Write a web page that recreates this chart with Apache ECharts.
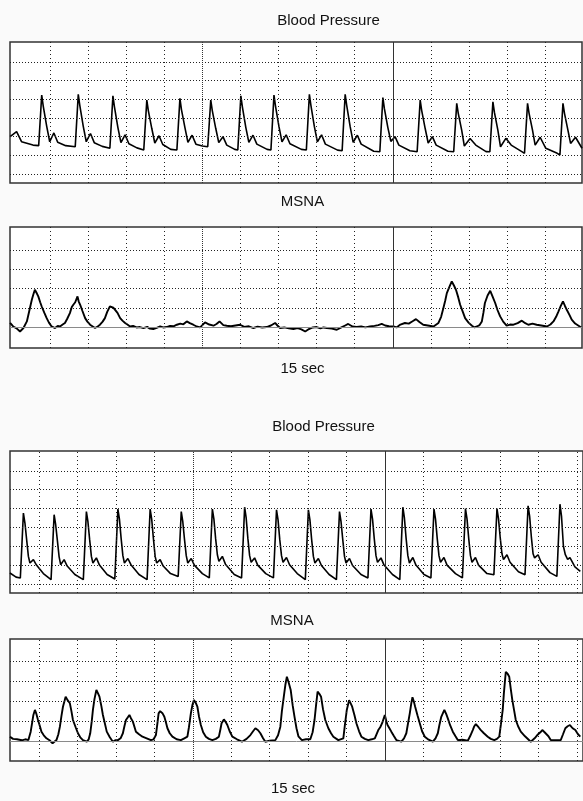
<!DOCTYPE html>
<html><head><meta charset="utf-8">
<script src="https://cdn.jsdelivr.net/npm/echarts@6/dist/echarts.min.js"></script>
<style>html,body{margin:0;padding:0;background:#fafafa}#c{width:583px;height:801px}</style>
</head><body><div id="c"></div>
<script>
// ---- tick / grid positions (seconds on x, grid divisions on y) ----
const xTicks = [1,2,3,4,5,6,7,8,9,10,11,12,13,14,15];
const bpYTicks = [0,1,2,3,4,5,6];
const msnaYTicks = [1,2,3,4];
const titlesTop = ['Blood Pressure','MSNA','15 sec'];
const titlesBottom = ['Blood Pressure','MSNA','15 sec'];

// ---- top recording: blood pressure ----
const bp1 = [
[-0.05,2.0],[0.12,2.27],[0.25,1.73],[0.55,1.55],
[0.70,1.52],[0.78,4.23],[0.82,3.64],[0.91,2.57],[0.99,1.73],[1.10,2.2],[1.20,1.70],[1.41,1.52],
[1.66,1.46],[1.74,4.27],[1.78,3.68],[1.87,2.57],[1.95,1.73],[2.06,2.17],[2.16,1.68],[2.37,1.48],
[2.57,1.38],[2.65,4.19],[2.69,3.6],[2.78,2.5],[2.86,1.68],[2.97,2.1],[3.07,1.62],[3.28,1.40],
[3.46,1.29],[3.54,3.96],[3.58,3.4],[3.67,2.45],[3.75,1.66],[3.86,2.05],[3.96,1.58],[4.17,1.32],
[4.33,1.29],[4.41,4.05],[4.45,3.45],[4.54,2.5],[4.62,1.7],[4.73,2.08],[4.83,1.6],[5.0,1.5],
[5.14,1.46],[5.22,3.96],[5.26,3.4],[5.35,2.45],[5.43,1.68],[5.54,2.0],[5.64,1.55],[5.85,1.32],
[5.93,1.29],[6.01,4.19],[6.05,3.6],[6.14,2.5],[6.22,1.7],[6.33,2.08],[6.43,1.6],[6.70,1.32],
[6.80,1.29],[6.88,4.23],[6.92,3.64],[7.01,2.55],[7.09,1.72],[7.20,2.1],[7.30,1.62],[7.60,1.32],
[7.73,1.29],[7.81,4.27],[7.85,3.68],[7.94,2.55],[8.02,1.72],[8.13,2.1],[8.23,1.6],[8.55,1.28],
[8.67,1.25],[8.75,4.27],[8.79,3.68],[8.88,2.55],[8.96,1.7],[9.07,2.08],[9.17,1.6],[9.50,1.22],
[9.66,1.19],[9.74,4.09],[9.78,3.5],[9.87,2.5],[9.95,1.75],[10.06,2.0],[10.16,1.55],[10.45,1.25],
[10.64,1.19],[10.72,3.96],[10.76,3.4],[10.85,2.45],[10.93,1.66],[11.04,2.0],[11.14,1.55],[11.45,1.22],
[11.60,1.19],[11.68,3.79],[11.72,3.25],[11.81,2.35],[11.88,1.5],[12.03,1.9],[12.18,1.55],[12.45,1.2],
[12.55,1.19],[12.63,3.87],[12.67,3.3],[12.76,2.35],[12.83,1.46],[12.97,1.91],[13.11,1.55],[13.40,1.19],
[13.46,1.11],[13.54,3.79],[13.58,3.25],[13.67,2.35],[13.74,1.55],[13.87,1.97],[14.02,1.38],[14.32,1.11],
[14.39,1.02],[14.47,3.79],[14.51,3.25],[14.60,2.35],[14.67,1.64],[14.80,1.97],[14.97,1.38]
];

// ---- top recording: MSNA ----
const msna1 = [
[-0.05,0.23],[0.03,0.05],[0.12,-0.05],[0.21,-0.21],[0.30,-0.03],[0.39,0.31],[0.45,0.82],[0.52,1.43],[0.56,1.70],[0.60,1.94],[0.64,1.80],[0.69,1.6],[0.74,1.30],[0.78,1.08],[0.85,0.75],[0.91,0.48],[0.97,0.25],[1.04,0.05],[1.09,-0.02],[1.13,-0.03],[1.20,0.08],[1.26,0.05],[1.33,0.15],[1.39,0.23],[1.45,0.45],[1.52,0.74],[1.57,1.05],[1.61,1.17],[1.66,1.30],[1.72,1.6],[1.75,1.35],[1.79,1.17],[1.85,0.85],[1.92,0.48],[1.98,0.30],[2.05,0.14],[2.12,0.05],[2.18,-0.03],[2.25,0.05],[2.31,0.14],[2.38,0.30],[2.44,0.48],[2.50,0.80],[2.57,1.08],[2.62,1.12],[2.66,1.02],[2.71,1.0],[2.77,0.75],[2.84,0.48],[2.90,0.35],[2.97,0.23],[3.03,0.15],[3.10,0.05],[3.18,0.08],[3.27,0.00],[3.36,0.02],[3.45,-0.04],[3.55,0.03],[3.62,-0.06],[3.71,-0.08],[3.80,-0.02],[3.89,0.05],[3.97,0.0],[4.06,0.02],[4.15,0.08],[4.24,0.06],[4.33,0.14],[4.42,0.20],[4.50,0.16],[4.59,0.31],[4.67,0.22],[4.76,0.14],[4.85,0.05],[4.94,0.0],[5.0,0.12],[5.07,0.26],[5.18,0.15],[5.29,0.09],[5.37,0.18],[5.45,0.31],[5.55,0.12],[5.64,0.09],[5.75,0.06],[5.87,0.1],[5.99,0.14],[6.10,0.03],[6.22,0.06],[6.34,-0.03],[6.45,0.04],[6.57,0.0],[6.69,0.02],[6.80,0.1],[6.91,0.23],[6.97,0.1],[7.04,-0.03],[7.15,0.0],[7.27,-0.05],[7.39,-0.08],[7.50,-0.03],[7.60,-0.1],[7.70,-0.21],[7.80,-0.08],[7.90,0.0],[8.00,0.02],[8.10,-0.05],[8.18,0.0],[8.27,-0.03],[8.40,-0.06],[8.53,-0.12],[8.65,0.0],[8.75,0.1],[8.83,0.18],[8.94,0.05],[9.05,0.02],[9.17,0.05],[9.28,0.0],[9.40,0.05],[9.52,0.08],[9.62,0.12],[9.71,0.18],[9.80,0.1],[9.90,0.06],[10.02,0.05],[10.10,0.0],[10.20,0.15],[10.32,0.23],[10.42,0.2],[10.52,0.32],[10.61,0.43],[10.70,0.28],[10.80,0.14],[10.92,0.1],[11.07,0.05],[11.20,0.23],[11.27,0.55],[11.33,1.0],[11.38,1.4],[11.42,1.77],[11.49,2.10],[11.55,2.37],[11.61,2.15],[11.66,1.94],[11.72,1.55],[11.77,1.17],[11.84,0.80],[11.90,0.48],[11.99,0.25],[12.08,0.09],[12.15,0.0],[12.21,0.05],[12.28,0.12],[12.34,0.31],[12.38,0.75],[12.42,1.26],[12.49,1.65],[12.56,1.89],[12.62,1.60],[12.69,1.26],[12.75,0.90],[12.82,0.57],[12.90,0.30],[12.99,0.09],[13.08,0.15],[13.17,0.14],[13.28,0.22],[13.39,0.35],[13.48,0.22],[13.56,0.14],[13.67,0.20],[13.78,0.14],[13.90,0.1],[14.05,0.05],[14.14,0.15],[14.22,0.31],[14.29,0.55],[14.35,0.82],[14.41,1.10],[14.47,1.34],[14.52,1.12],[14.57,0.91],[14.64,0.65],[14.70,0.40],[14.79,0.2],[14.88,0.09],[14.95,0.0]
];

// ---- bottom recording: blood pressure ----
const bp2 = [
[0.24,0.58],[0.40,0.36],
[0.51,0.32],[0.59,3.76],[0.63,3.23],[0.675,2.34],[0.72,1.46],[0.76,1.11],[0.85,1.29],[0.93,1.0],[1.11,0.55],
[1.31,0.23],[1.39,3.67],[1.43,3.14],[1.475,2.3],[1.52,1.44],[1.56,1.02],[1.65,1.29],[1.73,0.95],[1.93,0.5],
[2.15,0.23],[2.23,3.84],[2.27,3.3],[2.315,2.35],[2.36,1.46],[2.40,1.11],[2.49,1.38],[2.57,1.0],[2.77,0.5],
[2.97,0.26],[3.05,3.97],[3.09,3.44],[3.135,2.4],[3.18,1.5],[3.22,1.11],[3.31,1.35],[3.39,1.02],[3.60,0.5],
[3.81,0.23],[3.89,3.97],[3.93,3.44],[3.975,2.4],[4.02,1.46],[4.06,1.11],[4.15,1.29],[4.23,0.95],[4.42,0.55],
[4.62,0.40],[4.70,3.84],[4.74,3.3],[4.785,2.35],[4.83,1.5],[4.87,1.11],[4.96,1.35],[5.04,1.0],[5.25,0.55],
[5.43,0.32],[5.51,3.97],[5.55,3.44],[5.595,2.4],[5.64,1.55],[5.68,1.2],[5.77,1.46],[5.85,1.05],[6.08,0.5],
[6.27,0.32],[6.35,4.07],[6.39,3.5],[6.435,2.4],[6.48,1.5],[6.52,1.15],[6.61,1.38],[6.69,1.0],[6.90,0.55],
[7.10,0.32],[7.18,3.93],[7.22,3.4],[7.265,2.35],[7.31,1.5],[7.35,1.15],[7.44,1.4],[7.52,1.02],[7.72,0.55],
[7.93,0.23],[8.01,3.93],[8.05,3.4],[8.095,2.35],[8.14,1.46],[8.18,1.11],[8.27,1.35],[8.35,0.98],[8.55,0.5],
[8.74,0.23],[8.82,3.84],[8.86,3.3],[8.905,2.35],[8.95,1.46],[8.99,1.11],[9.08,1.35],[9.16,0.98],[9.38,0.5],
[9.56,0.32],[9.64,3.97],[9.68,3.44],[9.725,2.4],[9.77,1.5],[9.81,1.15],[9.90,1.38],[9.98,1.0],[10.20,0.5],
[10.39,0.23],[10.47,4.07],[10.51,3.5],[10.555,2.4],[10.60,1.5],[10.64,1.11],[10.73,1.4],[10.81,1.0],[11.02,0.5],
[11.20,0.32],[11.28,3.97],[11.32,3.44],[11.365,2.4],[11.41,1.5],[11.45,1.15],[11.54,1.4],[11.62,1.0],[11.84,0.55],
[12.02,0.32],[12.10,4.0],[12.14,3.45],[12.185,2.4],[12.23,1.5],[12.27,1.15],[12.36,1.4],[12.44,1.0],[12.66,0.55],
[12.84,0.49],[12.92,4.0],[12.96,3.45],[13.005,2.45],[13.05,1.6],[13.09,1.3],[13.18,1.55],[13.26,1.15],[13.48,0.65],
[13.65,0.49],[13.73,4.14],[13.77,3.6],[13.815,2.5],[13.86,1.6],[13.90,1.38],[13.99,1.55],[14.07,1.15],[14.30,0.6],
[14.48,0.40],[14.56,4.23],[14.60,3.6],[14.65,2.0],[14.70,1.55],[14.76,1.3],[14.82,1.4],[14.95,0.9],[15.09,0.67]
];

// ---- bottom recording: MSNA ----
const msna2 = [
[0.24,0.23],[0.32,0.12],[0.42,0.1],[0.55,0.05],[0.64,0.1],[0.72,0.06],[0.78,0.48],[0.82,0.95],[0.85,1.31],[0.89,1.56],[0.93,1.35],[0.97,1.06],[1.02,0.75],[1.06,0.48],[1.12,0.3],[1.19,0.15],[1.27,0.05],[1.35,-0.1],[1.40,-0.05],[1.45,0.06],[1.50,0.35],[1.54,0.73],[1.58,1.25],[1.62,1.72],[1.66,2.0],[1.69,2.22],[1.74,2.05],[1.80,1.89],[1.84,1.5],[1.88,1.06],[1.95,0.7],[2.01,0.4],[2.07,0.2],[2.14,0.06],[2.24,-0.02],[2.29,0.1],[2.33,0.4],[2.37,1.0],[2.40,1.56],[2.44,2.1],[2.49,2.55],[2.53,2.4],[2.57,2.22],[2.62,1.75],[2.66,1.31],[2.71,0.9],[2.76,0.48],[2.84,0.2],[2.92,-0.02],[2.98,0.05],[3.05,0.06],[3.12,0.15],[3.18,0.4],[3.22,0.75],[3.26,1.06],[3.31,1.2],[3.35,1.31],[3.39,1.15],[3.44,0.98],[3.52,0.48],[3.6,0.35],[3.69,0.23],[3.80,0.15],[3.91,0.06],[3.98,0.1],[4.04,0.31],[4.08,0.9],[4.11,1.39],[4.15,1.5],[4.17,1.56],[4.21,1.4],[4.26,1.22],[4.30,0.95],[4.34,0.65],[4.40,0.4],[4.47,0.23],[4.58,0.1],[4.69,0.06],[4.78,0.15],[4.86,0.23],[4.90,0.7],[4.95,1.39],[4.99,1.8],[5.03,2.05],[5.08,1.9],[5.12,1.72],[5.16,1.25],[5.21,0.81],[5.27,0.45],[5.34,0.23],[5.42,0.12],[5.51,0.06],[5.60,0.12],[5.68,0.23],[5.72,0.6],[5.75,0.9],[5.81,1.09],[5.86,0.95],[5.90,0.81],[5.96,0.5],[6.03,0.23],[6.15,0.1],[6.28,-0.02],[6.40,0.12],[6.50,0.31],[6.57,0.5],[6.63,0.65],[6.70,0.55],[6.76,0.4],[6.83,0.15],[6.89,-0.02],[7.0,0.03],[7.15,0.06],[7.22,0.3],[7.28,0.73],[7.32,1.5],[7.37,2.22],[7.41,2.8],[7.45,3.21],[7.50,2.9],[7.55,2.55],[7.60,1.8],[7.65,1.2],[7.70,0.65],[7.75,0.25],[7.84,0.06],[7.95,0.1],[8.06,0.1],[8.12,0.45],[8.17,1.06],[8.21,1.8],[8.25,2.47],[8.30,2.35],[8.34,2.22],[8.39,1.6],[8.45,1.06],[8.53,0.65],[8.60,0.4],[8.66,0.23],[8.79,0.06],[8.92,0.15],[8.96,0.8],[9.01,1.56],[9.07,2.05],[9.12,1.85],[9.15,1.72],[9.21,1.3],[9.26,0.9],[9.33,0.5],[9.39,0.23],[9.48,0.12],[9.57,0.06],[9.66,0.1],[9.74,0.15],[9.83,0.56],[9.88,0.7],[9.93,0.9],[10.0,1.31],[10.04,1.0],[10.07,0.81],[10.12,0.65],[10.17,0.48],[10.24,0.25],[10.30,0.06],[10.43,-0.02],[10.50,0.15],[10.56,0.4],[10.60,0.85],[10.65,1.39],[10.69,1.9],[10.72,2.19],[10.76,1.95],[10.79,1.72],[10.85,1.3],[10.91,0.9],[10.97,0.5],[11.04,0.23],[11.14,0.08],[11.25,-0.02],[11.32,0.15],[11.38,0.4],[11.42,0.8],[11.47,1.22],[11.55,1.56],[11.60,1.35],[11.64,1.14],[11.70,0.8],[11.77,0.48],[11.84,0.25],[11.90,0.06],[12.02,0.08],[12.16,0.03],[12.22,0.25],[12.29,0.56],[12.33,0.75],[12.37,0.86],[12.44,0.7],[12.50,0.56],[12.58,0.4],[12.68,0.23],[12.76,0.12],[12.85,0.06],[12.92,0.12],[12.98,0.23],[13.02,0.8],[13.07,1.56],[13.10,2.4],[13.15,3.46],[13.20,3.35],[13.24,3.21],[13.28,2.6],[13.32,2.05],[13.37,1.5],[13.41,1.06],[13.47,0.75],[13.54,0.48],[13.65,0.25],[13.80,-0.02],[13.90,0.15],[13.97,0.31],[14.05,0.45],[14.10,0.56],[14.16,0.45],[14.21,0.5],[14.26,0.25],[14.32,0.06],[14.45,0.05],[14.58,0.06],[14.64,0.35],[14.70,0.65],[14.76,0.75],[14.82,0.81],[14.89,0.65],[14.96,0.56],[15.03,0.35],[15.09,0.23]
];

// ---- layout ----
const panels = [
  {data: bp1,   top: 42,  height: 141, left: 10, width: 572, xMin: -0.053, xMax: 14.97, yMin: -0.48, yMax: 7.07, yTicks: bpYTicks, base: false, lw: 1.6},
  {data: msna1, top: 227, height: 121, left: 10, width: 572, xMin: -0.053, xMax: 14.97, yMin: -1.06, yMax: 5.18, yTicks: msnaYTicks, base: true, lw: 1.9},
  {data: bp2,   top: 451, height: 142, left: 10, width: 576, xMin: 0.241, xMax: 15.16, yMin: -0.48, yMax: 7.05, yTicks: bpYTicks, base: false, lw: 1.6},
  {data: msna2, top: 639, height: 122, left: 10, width: 576, xMin: 0.241, xMax: 15.16, yMin: -0.98, yMax: 5.09, yTicks: msnaYTicks, base: true, lw: 1.9}
];

const dotV = {type: [1, 3], color: '#222', width: 1};
const dotV5 = {type: [1, 1], color: '#333', width: 1};
const solidV = {type: 'solid', color: '#333', width: 1};
const dotH = {type: [1, 2], color: '#222', width: 1};
const baseL = {type: 'solid', color: '#8a8a8a', width: 1};

function gridLines(p) {
  const d = [];
  xTicks.forEach(k => {
    if (k > p.xMin && k < p.xMax) d.push({xAxis: k, lineStyle: k === 10 ? solidV : (k === 5 ? dotV5 : dotV)});
  });
  p.yTicks.forEach(k => d.push({yAxis: k, lineStyle: dotH}));
  if (p.base) d.push({yAxis: 0, lineStyle: baseL});
  return {silent: true, symbol: ['none', 'none'], label: {show: false}, emphasis: {disabled: true}, animation: false, data: d};
}

const font = '"Liberation Sans", Arial, sans-serif';
function ttl(text, cx, top) {
  return {text: text, left: cx, top: top, textAlign: 'center', padding: 0,
    textStyle: {fontSize: 15, fontWeight: 'normal', color: '#111', fontFamily: font}};
}

const option = {
  backgroundColor: '#fafafa',
  animation: false,
  title: [
    ttl(titlesTop[0], 328.5, 13), ttl(titlesTop[1], 302.5, 194), ttl(titlesTop[2], 302.5, 361),
    ttl(titlesBottom[0], 323.5, 419), ttl(titlesBottom[1], 292, 613), ttl(titlesBottom[2], 293, 781)
  ],
  grid: panels.map(p => ({left: p.left, top: p.top, width: p.width, height: p.height, show: true,
    backgroundColor: '#ffffff', borderColor: '#333', borderWidth: 1.5, containLabel: false})),
  xAxis: panels.map((p, i) => ({type: 'value', gridIndex: i, min: p.xMin, max: p.xMax, show: false})),
  yAxis: panels.map((p, i) => ({type: 'value', gridIndex: i, min: p.yMin, max: p.yMax, show: false})),
  series: [].concat(
    panels.map((p, i) => ({type: 'line', xAxisIndex: i, yAxisIndex: i, data: p.data, showSymbol: false, z: 1,
      lineStyle: {opacity: 0}, silent: true, markLine: gridLines(p)})),
    panels.map((p, i) => ({type: 'line', xAxisIndex: i, yAxisIndex: i, data: p.data, showSymbol: false, z: 3,
      silent: true, lineStyle: {color: '#000', width: p.lw}}))
  )
};
const chart = echarts.init(document.getElementById('c'), null, {renderer: 'canvas'});
chart.setOption(option);
</script></body></html>
